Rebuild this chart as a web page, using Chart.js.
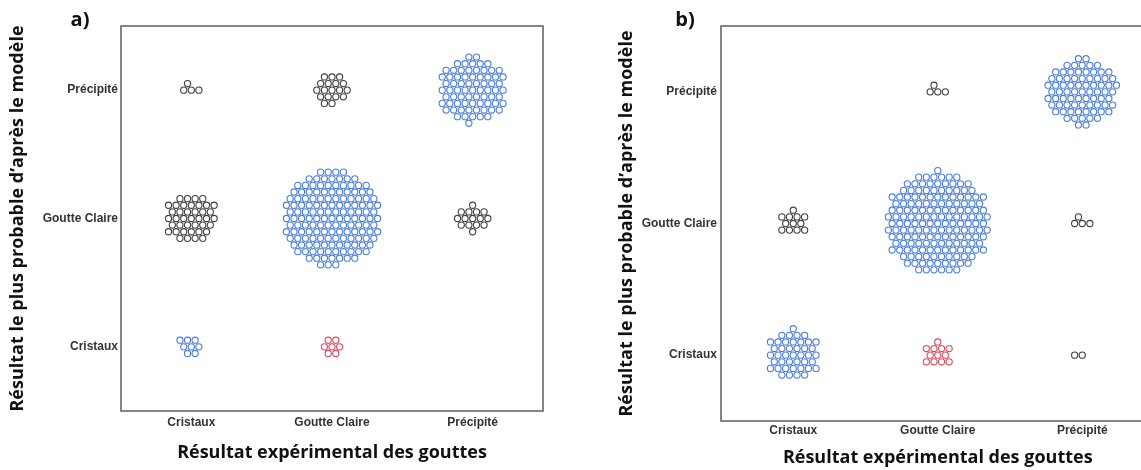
<!DOCTYPE html>
<html>
<head>
<meta charset="utf-8">
<script src="https://cdn.jsdelivr.net/npm/chart.js@4.4.1/dist/chart.umd.min.js"></script>
<style>
  html, body { margin: 0; padding: 0; background: #fff; overflow: hidden; }
  body { width: 1141px; height: 470px; position: relative; }
  .panel { position: absolute; top: 0; }
  #panelA { left: 0; }
  #panelB { left: 570px; }
</style>
</head>
<body>
<div class="panel" id="panelA"><canvas id="chartA" width="570" height="470"></canvas></div>
<div class="panel" id="panelB"><canvas id="chartB" width="600" height="470"></canvas></div>
<script>
const categories = ['Cristaux', 'Goutte Claire', 'Précipité'];

// drops per predicted class, split by experimental class (Cristaux, Goutte Claire, Précipité)
const predCristauxA = [8, 7, 0];
const predGoutteA = [40, 150, 15];
const predPrecipiteA = [4, 18, 72];

const predCristauxB = [42, 12, 2];
const predGoutteB = [12, 168, 4];
const predPrecipiteB = [0, 4, 76];

const blue = '#4a7ddb';
const dark = '#404040';
const red = '#d94a5e';

function cellColor(pred, exp) {
  if (pred === exp) return blue;
  if (pred === 0 && exp === 1) return red;
  return dark;
}

// hexagonal packing around a cell centre, nearest spots first (pixel offsets)
function hexOffsets(n, dx, dy) {
  const pts = [];
  for (let r = -12; r <= 12; r++) {
    for (let c = -12; c <= 12; c++) {
      const x = (c + (Math.abs(r) % 2) * 0.5) * dx;
      const y = r * dy;
      pts.push({ x, y, d: x * x + y * y });
    }
  }
  pts.sort((a, b) => a.d - b.d || a.y - b.y || a.x - b.x);
  return pts.slice(0, n);
}

const framePlugin = {
  id: 'frame',
  beforeDatasetsDraw(chart) {
    const { ctx, chartArea: a } = chart;
    ctx.save();
    ctx.strokeStyle = '#5e5e5e';
    ctx.lineWidth = 1.5;
    ctx.strokeRect(a.left, a.top, a.right - a.left, a.bottom - a.top);
    ctx.restore();
  }
};

const tagPlugin = {
  id: 'panelTag',
  afterDraw(chart, args, opts) {
    const ctx = chart.ctx;
    ctx.save();
    ctx.font = 'bold 20px "Open Sans"';
    ctx.fillStyle = '#111';
    ctx.textAlign = 'center';
    ctx.textBaseline = 'middle';
    ctx.fillText(opts.text, opts.x, opts.y);
    ctx.restore();
  }
};

const tickFont = { family: '"Liberation Sans", Arial, sans-serif', size: 12, weight: 'bold' };
const titleFont = { family: '"Open Sans", sans-serif', size: 18, weight: 'bold', lineHeight: 1 };

function buildChart(id, rows, cfg) {
  const datasets = [];
  rows.forEach((counts, pred) => {
    counts.forEach((n, exp) => {
      if (!n) return;
      datasets.push({
        n, pred, exp,
        data: [],
        pointRadius: 3.1,
        pointBorderWidth: 1.1,
        pointBorderColor: cellColor(pred, exp),
        pointBackgroundColor: '#fff',
        showLine: false
      });
    });
  });

  const chart = new Chart(document.getElementById(id), {
    type: 'scatter',
    data: { datasets },
    options: {
      responsive: false,
      animation: false,
      devicePixelRatio: 1,
      layout: { padding: { top: 26, right: cfg.padRight, bottom: 0, left: 0 } },
      plugins: {
        legend: { display: false },
        tooltip: { enabled: false },
        panelTag: { text: cfg.tag, x: cfg.tagX, y: 20 }
      },
      scales: {
        x: {
          type: 'linear', min: -0.5, max: 2.5,
          grid: { display: false, drawTicks: false },
          border: { display: false },
          afterBuildTicks: s => { s.ticks = [0, 1, 2].map(v => ({ value: v })); },
          afterFit: s => { s.height = cfg.xHeight; },
          ticks: {
            callback: v => categories[v],
            font: tickFont, color: '#333',
            padding: cfg.xTickPad, maxRotation: 0, autoSkip: false
          },
          title: {
            display: true, text: 'Résultat expérimental des gouttes',
            font: titleFont, color: '#111',
            padding: { top: 0, bottom: cfg.xTitlePad }
          }
        },
        y: {
          type: 'linear', min: -0.5, max: 2.5,
          grid: { display: false, drawTicks: false },
          border: { display: false },
          afterBuildTicks: s => { s.ticks = [0, 1, 2].map(v => ({ value: v })); },
          afterFit: s => { s.width = cfg.yWidth; },
          ticks: {
            callback: v => categories[v],
            font: tickFont, color: '#333',
            padding: cfg.yTickPad, autoSkip: false
          },
          title: {
            display: true, text: 'Résultat le plus probable d’après le modèle',
            font: titleFont, color: '#111',
            padding: { top: cfg.yTitlePad, bottom: 0 }
          }
        }
      }
    },
    plugins: [framePlugin, tagPlugin]
  });

  // spread each cell's drops on the lattice, converted to axis units
  const xs = chart.scales.x, ys = chart.scales.y;
  const ux = Math.abs(xs.getPixelForValue(1) - xs.getPixelForValue(0));
  const uy = Math.abs(ys.getPixelForValue(1) - ys.getPixelForValue(0));
  chart.data.datasets.forEach(ds => {
    ds.data = hexOffsets(ds.n, 7.6, 6.62).map(p => ({ x: ds.exp + p.x / ux, y: ds.pred - p.y / uy }));
  });
  chart.update('none');
  return chart;
}

buildChart('chartA', [predCristauxA, predGoutteA, predPrecipiteA], {
  tag: 'a)', tagX: 80, padRight: 27,
  xHeight: 59, yWidth: 121,
  xTickPad: 4, yTickPad: 3, xTitlePad: 8, yTitlePad: 9
});

buildChart('chartB', [predCristauxB, predGoutteB, predPrecipiteB], {
  tag: 'b)', tagX: 115, padRight: 15.5,
  xHeight: 49, yWidth: 151,
  xTickPad: 2, yTickPad: 4, xTitlePad: 3, yTitlePad: 48
});
</script>
</body>
</html>
